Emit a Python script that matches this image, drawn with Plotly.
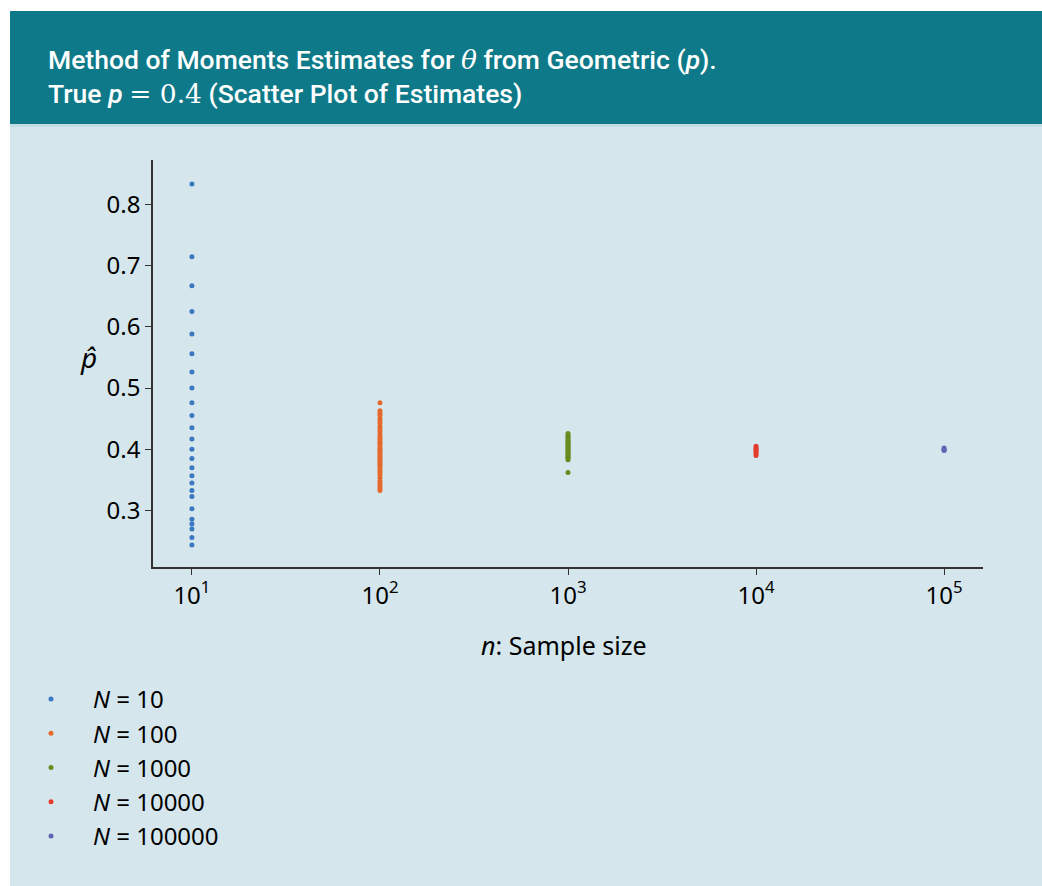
import plotly.graph_objects as go

# ---- data ----
sample_sizes = [10, 100, 1000, 10000, 100000]
series_names = ["<i>N</i> = 10", "<i>N</i> = 100", "<i>N</i> = 1000", "<i>N</i> = 10000", "<i>N</i> = 100000"]
colors = ["#3b78c2", "#e5692c", "#6b8a1f", "#e23d2d", "#6165b5"]

est_n10 = [0.833, 0.714, 0.667, 0.625, 0.588, 0.556, 0.526, 0.500, 0.476, 0.455,
           0.435, 0.417, 0.400, 0.385, 0.370, 0.357, 0.345, 0.333, 0.323, 0.303,
           0.286, 0.278, 0.270, 0.256, 0.244]
est_n100 = [0.476, 0.463, 0.459, 0.455, 0.450, 0.446, 0.442, 0.437, 0.433, 0.429,
            0.424, 0.420, 0.417, 0.413, 0.410, 0.407, 0.403, 0.400, 0.397, 0.394,
            0.391, 0.388, 0.385, 0.382, 0.379, 0.376, 0.373, 0.370, 0.366, 0.362,
            0.358, 0.353, 0.348, 0.344, 0.340, 0.336, 0.333]
est_n1000 = [0.426, 0.423, 0.420, 0.418, 0.415, 0.413, 0.411, 0.409, 0.407, 0.405,
             0.403, 0.401, 0.399, 0.397, 0.395, 0.393, 0.391, 0.389, 0.387, 0.385,
             0.383, 0.362]
est_n10000 = [0.405, 0.402, 0.400, 0.398, 0.396, 0.393, 0.390]
est_n100000 = [0.402, 0.400, 0.399, 0.398]

all_estimates = [est_n10, est_n100, est_n1000, est_n10000, est_n100000]

y_ticks = [0.3, 0.4, 0.5, 0.6, 0.7, 0.8]
x_ticks = [10, 100, 1000, 10000, 100000]
x_ticktext = ["10<sup>1</sup>", "10<sup>2</sup>", "10<sup>3</sup>", "10<sup>4</sup>", "10<sup>5</sup>"]

# ---- style ----
BG = "#d5e7ed"
TEAL = "#0e7a89"
FONT = "Noto Sans"

fig = go.Figure()
for n, name, col, ests in zip(sample_sizes, series_names, colors, all_estimates):
    fig.add_trace(go.Scatter(
        x=[n] * len(ests), y=ests, mode="markers", name=name,
        marker=dict(color=col, size=5, line=dict(width=0)),
    ))

L, R, T, B = 153, 59, 160, 319
W, H = 1042, 886
pw, ph = W - L - R, H - T - B

def px_x(px):
    return (px - L) / pw

def px_y(py):
    return (H - B - py) / ph

fig.update_layout(
    width=W, height=H,
    margin=dict(l=L, r=R, t=T, b=B, autoexpand=False),
    paper_bgcolor="white",
    plot_bgcolor=BG,
    font=dict(family=FONT, color="black", size=24),
    showlegend=True,
    legend=dict(
        x=px_x(9), y=px_y(677), xanchor="left", yanchor="top",
        bgcolor="rgba(0,0,0,0)", font=dict(size=24, family=FONT),
        itemwidth=74,
    ),
    xaxis=dict(
        type="log", range=[0.793, 5.207], tickvals=x_ticks, ticktext=x_ticktext,
        showgrid=False, zeroline=False,
        showline=True, linecolor="#333333", linewidth=1.5,
        ticks="outside", ticklen=6, tickcolor="#333333",
        tickfont=dict(size=24),
    ),
    yaxis=dict(
        range=[0.208, 0.872], tickvals=y_ticks, ticktext=[f"{v:.1f}" for v in y_ticks],
        showgrid=False, zeroline=False,
        showline=True, linecolor="#333333", linewidth=1.5,
        ticks="outside", ticklen=6, tickcolor="#333333",
        tickfont=dict(size=24),
    ),
    shapes=[
        dict(type="rect", xref="paper", yref="paper", layer="below",
             x0=px_x(10), x1=px_x(1042), y0=px_y(886), y1=px_y(124),
             fillcolor=BG, line=dict(width=0)),
        dict(type="rect", xref="paper", yref="paper", layer="below",
             x0=px_x(10), x1=px_x(1042), y0=px_y(124), y1=px_y(11),
             fillcolor=TEAL, line=dict(width=0)),
        dict(type="rect", xref="paper", yref="paper", layer="below",
             x0=px_x(10), x1=px_x(1042), y0=px_y(127), y1=px_y(124),
             fillcolor="#c3dce4", line=dict(width=0)),
    ],
    annotations=[
        dict(xref="paper", yref="paper", x=px_x(46), y=px_y(76),
             xanchor="left", yanchor="middle", align="left", showarrow=False,
             text=("Method of Moments Estimates for <span style=\"font-family:'DejaVu Serif';font-weight:normal\"><i>θ</i></span>"
                   " from Geometric (<i>p</i>).<br>True <i>p</i> "
                   "<span style=\"font-family:'DejaVu Serif';font-weight:normal\">= 0.4</span> (Scatter Plot of Estimates)"),
             font=dict(color="white", size=26.5, family="Roboto", weight=500)),
        dict(xref="paper", yref="paper", x=px_x(564), y=px_y(645),
             xanchor="center", yanchor="middle", showarrow=False,
             text="<i>n</i>: Sample size", font=dict(size=25)),
        dict(xref="paper", yref="paper", x=px_x(88), y=px_y(357),
             xanchor="center", yanchor="middle", showarrow=False,
             text="<i>p̂</i>", font=dict(size=28)),
    ],
)

fig.write_html("out.html")
